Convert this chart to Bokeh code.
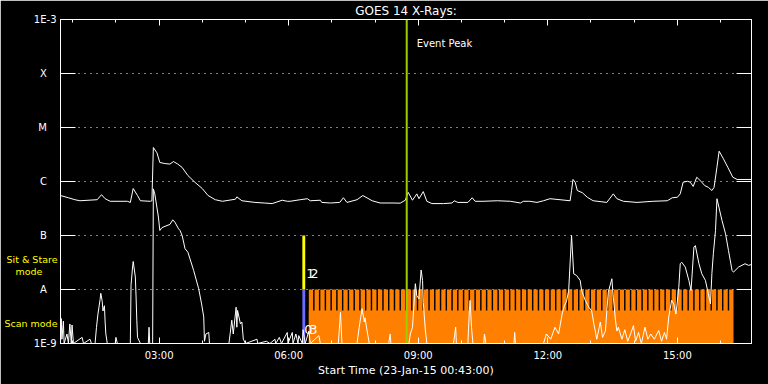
import numpy as np
from bokeh.plotting import figure
from bokeh.models import (Range1d, FixedTicker, LinearAxis, LogAxis, CustomJSTickFormatter, Label)
from bokeh.embed import file_html
from bokeh.resources import INLINE

# ---------------- data ----------------
start_time = "00:43"
end_time = "16:43"

class_values = [1e-9, 1e-8, 1e-7, 1e-6, 1e-5, 1e-4, 1e-3]
class_labels = ["1E-9", "A", "B", "C", "M", "X", "1E-3"]

# mode captions written beside the flux axis (flux level where each line sits)
mode_values = [3.6e-8, 2.15e-8, 2.3e-9]
mode_labels = ["Sit & Stare", "mode", "Scan mode"]

hour_ticks = [3, 6, 9, 12, 15]
hour_labels = ["03:00", "06:00", "09:00", "12:00", "15:00"]
hour_minor = [1, 2, 4, 5, 7, 8, 10, 11, 13, 14, 16]

# GOES 14 long channel (1-8 A)
long_times = ["00:43", "00:54", "01:03", "01:10", "01:34", "01:40", "01:45", "01:52", "02:16", "02:20",
              "02:24", "02:30", "02:34", "02:48", "02:50", "02:52", "02:57", "03:01", "03:08", "03:15",
              "03:20", "03:26", "03:32", "03:40", "03:50", "04:00", "04:08", "04:18", "04:28", "04:46",
              "04:48", "04:55", "05:13", "05:26", "05:37", "05:51", "05:58", "06:02", "06:16", "06:26",
              "06:30", "06:44", "06:46", "06:58", "07:11", "07:16", "07:21", "07:35", "07:43", "07:56",
              "08:07", "08:25", "08:35", "08:42", "08:46", "08:52", "08:58", "09:01", "09:07", "09:12",
              "09:19", "09:35", "09:47", "09:50", "09:55", "10:09", "10:15", "10:19", "10:30", "10:50",
              "11:08", "11:22", "11:26", "11:35", "11:45", "11:54", "12:03", "12:17", "12:31", "12:33",
              "12:35", "12:38", "12:41", "12:48", "12:55", "13:03", "13:22", "13:31", "13:36", "13:45",
              "14:04", "14:26", "14:46", "14:53", "15:00", "15:04", "15:08", "15:14", "15:18", "15:22",
              "15:27", "15:34", "15:38", "15:43", "15:48", "15:51", "15:55", "15:58", "16:04", "16:10",
              "16:17", "16:23", "16:43"]
long_flux = [5.5e-7, 5.0e-7, 4.6e-7, 4.4e-7, 4.6e-7, 5.7e-7, 4.8e-7, 4.3e-7, 4.3e-7, 4.1e-7,
             7.4e-7, 5.5e-7, 4.4e-7, 4.3e-7, 4.4e-7, 4.26e-6, 3.4e-6, 2.25e-6, 2.15e-6, 2.1e-6,
             2.34e-6, 2.1e-6, 1.82e-6, 1.29e-6, 9.6e-7, 7.4e-7, 5.5e-7, 4.6e-7, 4.3e-7, 4.7e-7,
             5.2e-7, 4.4e-7, 4.1e-7, 4.0e-7, 3.9e-7, 4.5e-7, 4.3e-7, 4.3e-7, 4.6e-7, 4.8e-7,
             4.4e-7, 4.5e-7, 4.1e-7, 4.0e-7, 4.1e-7, 5.0e-7, 4.1e-7, 4.6e-7, 5.5e-7, 4.4e-7,
             4.0e-7, 4.0e-7, 3.97e-7, 4.5e-7, 6.3e-7, 4.5e-7, 5.9e-7, 4.8e-7, 6.5e-7, 4.3e-7,
             3.9e-7, 3.9e-7, 4.0e-7, 4.4e-7, 4.1e-7, 4.1e-7, 5.0e-7, 4.3e-7, 4.3e-7, 4.4e-7,
             4.3e-7, 4.0e-7, 4.3e-7, 4.3e-7, 4.1e-7, 4.4e-7, 4.8e-7, 4.6e-7, 4.4e-7, 6.8e-7,
             1.09e-6, 9.7e-7, 6.8e-7, 6.2e-7, 5.1e-7, 4.4e-7, 4.1e-7, 5.9e-7, 4.8e-7, 4.3e-7,
             4.1e-7, 4.3e-7, 4.4e-7, 5.0e-7, 5.1e-7, 5.9e-7, 9.7e-7, 1.01e-6, 9.7e-7, 8.1e-7,
             1.2e-6, 9.7e-7, 8.4e-7, 7.8e-7, 6.8e-7, 7.8e-7, 1.84e-6, 3.64e-6, 2.63e-6, 1.84e-6,
             1.2e-6, 1.09e-6, 1.09e-6]

# GOES 14 short channel (0.5-4 A)
short_times = ["00:43", "00:44", "00:45", "00:47", "00:48", "00:52", "00:54", "00:56", "00:58", "00:59",
               "01:01", "01:13", "01:15", "01:24", "01:26", "01:31", "01:33", "01:35", "01:38", "01:39",
               "01:41", "01:42", "01:44", "01:45", "01:46", "01:48", "01:59", "02:00", "02:02", "02:20",
               "02:21", "02:23", "02:24", "02:27", "02:28", "02:29", "02:30", "02:34", "02:45", "02:46",
               "02:47", "02:50", "02:51", "02:52", "02:54", "02:59", "03:01", "03:04", "03:11", "03:15",
               "03:19", "03:22", "03:27", "03:29", "03:32", "03:36", "03:40", "03:48", "03:55", "03:59",
               "04:02", "04:03", "04:05", "04:09", "04:10", "04:37", "04:41", "04:43", "04:47", "04:48",
               "04:49", "04:53", "04:55", "04:57", "05:00", "05:16", "05:17", "05:29", "05:34", "05:41",
               "05:42", "05:47", "05:50", "05:58", "05:59", "06:05", "06:06", "06:10", "06:13", "06:14",
               "06:19", "06:20", "06:23", "06:28", "06:30", "06:42", "06:44", "07:09", "07:12", "07:14",
               "07:35", "07:38", "07:40", "07:42", "07:45", "07:46", "07:49", "07:52", "08:19", "08:21",
               "08:22", "08:47", "08:49", "08:52", "08:56", "08:58", "09:01", "09:04", "09:06", "09:07",
               "09:10", "09:12", "09:49", "09:52", "09:53", "10:09", "10:11", "10:12", "10:14", "10:16",
               "10:31", "10:32", "10:34", "11:13", "11:14", "11:15", "11:54", "11:58", "12:04", "12:10",
               "12:15", "12:20", "12:23", "12:26", "12:29", "12:33", "12:36", "12:40", "12:45", "12:47",
               "12:52", "12:57", "13:01", "13:04", "13:06", "13:08", "13:13", "13:16", "13:20", "13:22",
               "13:24", "13:29", "13:31", "13:34", "13:36", "13:38", "13:43", "13:47", "13:51", "13:55",
               "13:59", "14:02", "14:06", "14:10", "14:15", "14:19", "14:23", "14:28", "14:34", "14:38",
               "14:42", "14:45", "14:48", "14:52", "14:55", "14:58", "15:02", "15:04", "15:06", "15:11",
               "15:16", "15:19", "15:23", "15:25", "15:30", "15:34", "15:39", "15:43", "15:46", "15:48",
               "15:50", "15:53", "15:55", "16:02", "16:07", "16:11", "16:16", "16:18", "16:25", "16:34",
               "16:39", "16:43"]
short_flux = [1.0e-9, 2.9e-9, 1.2e-9, 2.6e-9, 1.0e-9, 1.5e-9, 1.0e-9, 2.3e-9, 1.0e-9, 2.2e-9,
              1.0e-9, 1.3e-9, 1.0e-9, 1.2e-9, 1.0e-9, 1.0e-9, 2.0e-9, 3.5e-9, 6.5e-9, 8.5e-9,
              6.0e-9, 4.0e-9, 5.0e-9, 2.5e-9, 1.5e-9, 1.0e-9, 1.0e-9, 1.3e-9, 1.0e-9, 1.0e-9,
              1.2e-8, 2.5e-8, 3.3e-8, 1.7e-8, 7.2e-9, 2.7e-9, 1.3e-9, 1.0e-9, 1.0e-9, 2.0e-9,
              1.0e-9, 1.0e-9, 1.0e-9, 7.3e-7, 5.9e-7, 2.2e-7, 1.24e-7, 1.4e-7, 1.53e-7, 1.6e-7,
              1.95e-7, 1.76e-7, 1.33e-7, 1.24e-7, 1.0e-7, 5.7e-8, 4.9e-8, 2.25e-8, 1.03e-8, 5.4e-9,
              3.1e-9, 1.1e-9, 1.5e-9, 1.6e-9, 1.0e-9, 1.0e-9, 2.7e-9, 1.5e-9, 4.7e-9, 2.0e-9,
              4.1e-9, 2.3e-9, 2.5e-9, 1.2e-9, 1.0e-9, 1.2e-9, 1.0e-9, 1.1e-9, 1.0e-9, 1.2e-9,
              1.0e-9, 1.3e-9, 1.0e-9, 1.6e-9, 1.0e-9, 1.6e-9, 1.0e-9, 1.5e-9, 1.0e-9, 1.4e-9,
              1.0e-9, 1.8e-9, 1.0e-9, 1.7e-9, 1.0e-9, 1.4e-9, 1.0e-9, 1.0e-9, 3.8e-9, 1.0e-9,
              1.0e-9, 2.0e-9, 3.0e-9, 4.4e-9, 2.5e-9, 3.0e-9, 1.7e-9, 1.0e-9, 1.0e-9, 1.5e-9,
              1.0e-9, 1.0e-9, 1.5e-9, 2.0e-9, 1.28e-8, 7.7e-9, 6.7e-9, 2.3e-8, 1.47e-8, 5.8e-9,
              1.7e-9, 1.0e-9, 1.0e-9, 2.0e-9, 1.0e-9, 1.0e-9, 4.0e-9, 6.3e-9, 2.0e-9, 1.0e-9,
              1.0e-9, 1.5e-9, 1.0e-9, 1.0e-9, 1.6e-9, 1.0e-9, 1.0e-9, 1.5e-9, 1.2e-9, 2.0e-9,
              1.5e-9, 3.55e-9, 5.0e-9, 6.0e-9, 9.6e-9, 1.0e-7, 1.95e-8, 1.82e-8, 1.47e-8, 9.6e-9,
              6.3e-9, 4.7e-9, 4.0e-9, 2.3e-9, 1.7e-9, 1.2e-9, 2.5e-9, 1.3e-9, 1.7e-9, 4.0e-9,
              8.9e-9, 1.58e-8, 7.2e-9, 2.7e-9, 1.7e-9, 2.0e-9, 1.2e-9, 1.8e-9, 1.1e-9, 1.5e-9,
              2.15e-9, 1.1e-9, 1.6e-9, 1.0e-9, 2.0e-9, 1.2e-9, 1.5e-9, 1.2e-9, 1.74e-9, 1.1e-9,
              1.6e-9, 1.2e-9, 3.1e-9, 6.3e-9, 5.4e-9, 3.5e-9, 1.1e-8, 3.0e-8, 3.2e-8, 2.6e-8,
              1.47e-8, 9.6e-9, 6.1e-8, 6.5e-8, 3.0e-8, 1.95e-8, 1.47e-8, 8.3e-9, 5.4e-9, 2.0e-8,
              4.6e-8, 1.24e-7, 4.8e-7, 1.9e-7, 1.07e-7, 5.3e-8, 2.25e-8, 2.1e-8, 2.6e-8, 3.0e-8,
              2.8e-8, 2.9e-8]

# observing timeline
event_peak = "08:44"
sit_stare_obs = ("06:19", "06:23")   # yellow, A..B band
pointing_obs = ("06:19", "06:23")    # blue, 1E-9..A band
scan_program = ("06:28", "16:17")    # continuous lower orange band
raster_starts = ["06:28", "06:36", "06:44", "06:52", "07:00", "07:08", "07:16", "07:24", "07:32", "07:40",
                 "07:48", "07:56", "08:04", "08:12", "08:20", "08:28", "08:36", "08:44", "08:52", "09:00",
                 "09:08", "09:16", "09:24", "09:32", "09:40", "09:48", "09:56", "10:04", "10:12", "10:20",
                 "10:28", "10:36", "10:44", "10:52", "11:00", "11:08", "11:16", "11:24", "11:32", "11:40",
                 "11:48", "11:56", "12:04", "12:12", "12:20", "12:28", "12:36", "12:44", "12:52", "13:00",
                 "13:08", "13:16", "13:24", "13:32", "13:40", "13:48", "13:56", "14:04", "14:12", "14:20",
                 "14:28", "14:36", "14:44", "14:52", "15:00", "15:08", "15:16", "15:24", "15:32", "15:40",
                 "15:48", "15:56", "16:04", "16:12"]
raster_minutes = 6
scan_band_top = 4.1e-9

title_text = "GOES 14 X-Rays:"
xlabel_text = "Start Time (23-Jan-15 00:43:00)"


def hm(s):
    h, m = s.split(":")
    return int(h) + int(m) / 60.0


FONT = "DejaVu Sans"
WHITE = "#ffffff"
YELLOW = "#ffff00"
ORANGE = "#ff8000"
BLUE = "#6b6bff"
GREEN = "#9bcd00"
NB = "\u00a0"

x0, x1 = hm(start_time), hm(end_time)

p = figure(width=768, height=384, output_backend="svg", toolbar_location=None,
           x_range=Range1d(x0, x1), y_range=Range1d(1e-9, 1e-3), y_axis_type="log",
           min_border_left=60, min_border_right=17, min_border_top=19, min_border_bottom=41)
p.background_fill_color = "black"
p.border_fill_color = "black"
p.outline_line_color = WHITE
p.xgrid.visible = False
p.ygrid.ticker = FixedTicker(ticks=class_values[1:-1])
p.ygrid.grid_line_color = WHITE
p.ygrid.grid_line_dash = "1 5"
p.ygrid.grid_line_width = 1

blank = CustomJSTickFormatter(code="return '';")


def label_formatter(vals, texts):
    js = ("const v = %s; const t = %s;"
          "for (let i = 0; i < v.length; i++) { if (Math.abs(tick / v[i] - 1) < 1e-6) return t[i]; }"
          "return '';") % (repr(vals), repr(texts).replace("\\xa0", "\\u00a0"))
    return CustomJSTickFormatter(code=js)


# bottom x axis
xa = p.xaxis[0]
xa.ticker = FixedTicker(ticks=hour_ticks, minor_ticks=hour_minor)
xa.major_label_overrides = {t: l for t, l in zip(hour_ticks, hour_labels)}
xa.axis_label = xlabel_text
xa.axis_line_color = WHITE
xa.major_tick_line_color = WHITE
xa.minor_tick_line_color = WHITE
xa.major_tick_in = 6
xa.major_tick_out = 0
xa.minor_tick_in = 3
xa.minor_tick_out = 0
xa.major_label_text_color = WHITE
xa.major_label_text_font = FONT
xa.major_label_text_font_size = "10px"
xa.major_label_standoff = 6
xa.axis_label_text_color = WHITE
xa.axis_label_text_font = FONT
xa.axis_label_text_font_size = "11px"
xa.axis_label_text_font_style = "normal"
xa.axis_label_standoff = 0

# top x axis (carries the title)
top = LinearAxis(ticker=FixedTicker(ticks=hour_ticks, minor_ticks=hour_minor), formatter=blank)
top.axis_line_color = WHITE
top.major_tick_line_color = WHITE
top.minor_tick_line_color = WHITE
top.major_tick_in = 6
top.major_tick_out = 0
top.minor_tick_in = 3
top.minor_tick_out = 0
top.major_label_standoff = 0
top.axis_label = title_text
top.axis_label_text_color = WHITE
top.axis_label_text_font = FONT
top.axis_label_text_font_size = "12px"
top.axis_label_text_font_style = "normal"
top.axis_label_standoff = 2
p.add_layout(top, "above")

# inner left axis: tick marks only
ya = p.yaxis[0]
ya.ticker = FixedTicker(ticks=class_values)
ya.formatter = blank
ya.axis_line_color = WHITE
ya.major_tick_line_color = WHITE
ya.major_tick_in = 15
ya.major_tick_out = 0
ya.minor_tick_line_color = None
ya.major_label_standoff = 0

# class letters (white)
pad = {"A": 3, "B": 3, "C": 3, "M": 3, "X": 3}
la = LogAxis(ticker=FixedTicker(ticks=class_values),
             formatter=label_formatter(class_values, [l + NB * pad.get(l, 0) for l in class_labels]))
la.axis_line_color = None
la.major_tick_line_color = None
la.minor_tick_line_color = None
la.major_tick_in = 0
la.major_tick_out = 0
la.major_label_text_color = WHITE
la.major_label_text_font = FONT
la.major_label_text_font_size = "10px"
la.major_label_standoff = 4
p.add_layout(la, "left")

# mode captions (yellow), drawn back over the class-letter column
mpad = {"mode": 5}
ma = LogAxis(ticker=FixedTicker(ticks=mode_values),
             formatter=label_formatter(mode_values, [l + NB * mpad.get(l, 0) for l in mode_labels]))
ma.axis_line_color = None
ma.major_tick_line_color = None
ma.minor_tick_line_color = None
ma.major_tick_in = 0
ma.major_tick_out = 0
ma.major_label_text_color = YELLOW
ma.major_label_text_font = FONT
ma.major_label_text_font_size = "9.5px"
ma.major_label_standoff = -27
p.add_layout(ma, "left")

# right axis: tick marks only
ra = LogAxis(ticker=FixedTicker(ticks=class_values), formatter=blank)
ra.axis_line_color = WHITE
ra.major_tick_line_color = WHITE
ra.major_tick_in = 15
ra.major_tick_out = 0
ra.minor_tick_line_color = None
ra.major_label_standoff = 0
p.add_layout(ra, "right")

# observing timeline bars
p.quad(left=[hm(scan_program[0])], right=[hm(scan_program[1])], bottom=[1e-9], top=[scan_band_top],
       fill_color=ORANGE, line_color=None)
rl = [hm(s) for s in raster_starts]
rr = [v + raster_minutes / 60.0 for v in rl]
p.quad(left=rl, right=rr, bottom=[1e-9] * len(rl), top=[1e-8] * len(rl), fill_color=ORANGE, line_color=None)
p.quad(left=[hm(pointing_obs[0])], right=[hm(pointing_obs[1])], bottom=[1e-9], top=[1e-8],
       fill_color=BLUE, line_color=None)
p.quad(left=[hm(sit_stare_obs[0])], right=[hm(sit_stare_obs[1])], bottom=[1e-8], top=[1e-7],
       fill_color=YELLOW, line_color=None)

# GOES curves
p.line([hm(t) for t in long_times], long_flux, line_color=WHITE, line_width=1)
p.line([hm(t) for t in short_times], short_flux, line_color=WHITE, line_width=1)

# event peak
pk = hm(event_peak)
p.segment(x0=[pk], y0=[1e-9], x1=[pk], y1=[1e-3], line_color=GREEN, line_width=2)
p.add_layout(Label(x=pk, y=3.6e-4, x_offset=10, text="Event Peak", text_color=WHITE,
                   text_font=FONT, text_font_size="10px", text_baseline="middle"))

# obs numbers
for txt, xo, yv in [("1", 1, 2.0e-8), ("2", 5, 2.0e-8), ("0", -1, 1.8e-9), ("3", 4, 1.8e-9)]:
    p.add_layout(Label(x=hm(sit_stare_obs[1]), y=yv, x_offset=xo, text=txt, text_color=WHITE,
                       text_font=FONT, text_font_size="13px", text_baseline="middle"))

open("out.html", "w").write(file_html(p, INLINE))
